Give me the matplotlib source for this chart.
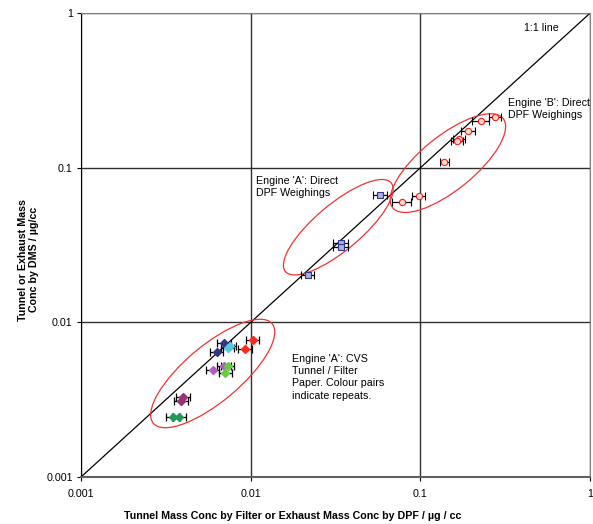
import numpy as np
import matplotlib
matplotlib.use("Agg")
import matplotlib.pyplot as plt
import matplotlib.transforms as mtransforms
from matplotlib.patches import Ellipse

plt.rcParams['font.family'] = ['Liberation Sans', 'DejaVu Sans']

# Engine 'A' CVS tunnel / filter paper (pairs of repeats)
cvs_series = {
    'red':      ([0.0103, 0.0093], [0.0077, 0.0067], '#ff2a1a'),
    'navy':     ([0.0070, 0.0063], [0.0074, 0.0064], '#333388'),
    'cyan':     ([0.0073, 0.0075], [0.0068, 0.0070], '#55c8e0'),
    'orchid':   ([0.0070, 0.0060], [0.0052, 0.0049], '#b060c0'),
    'ltgreen':  ([0.0073, 0.0071], [0.0052, 0.0047], '#66cc44'),
    'plum':     ([0.0040, 0.0039], [0.0033, 0.0031], '#993377'),
    'dkgreen':  ([0.0035, 0.0038], [0.00245, 0.00245], '#229955'),
}
cvs_xerr_pct = 0.09

# Engine 'A' direct DPF weighings
a_x = [0.0580, 0.0341, 0.0338, 0.0217]
a_y = [0.0670, 0.0325, 0.0309, 0.0203]
a_xerr_pct = [0.09, 0.10, 0.10, 0.09]

# Engine 'B' direct DPF weighings
b_x = [0.276, 0.2275, 0.191, 0.169, 0.164, 0.138, 0.0978, 0.078]
b_y = [0.213, 0.199, 0.173, 0.153, 0.149, 0.109, 0.066, 0.060]
b_xerr_pct = [0.08, 0.11, 0.09, 0.08, 0.08, 0.06, 0.09, 0.13]

tick_vals = [0.001, 0.01, 0.1, 1]
tick_labels = ['0.001', '0.01', '0.1', '1']

fig = plt.figure(figsize=(5.93, 5.24), dpi=100)
ax = fig.add_axes([0.1366, 0.0897, 0.8587, 0.8855])
ax.set_xscale('log')
ax.set_yscale('log')
ax.set_xlim(0.001, 1)
ax.set_ylim(0.001, 1)

ax.grid(True, which='major', color='#303030', lw=1, zorder=0)
ax.minorticks_off()
ax.set_xticks(tick_vals)
ax.set_xticklabels(tick_labels)
ax.set_yticks(tick_vals)
ax.set_yticklabels(tick_labels)
ax.tick_params(labelsize=7.7, direction='out', length=3, width=0.8, pad=3)
ax.tick_params(axis='x', pad=6)

for s in ['top', 'right']:
    ax.spines[s].set_color('#808080')
ax.spines['bottom'].set_color('#606060')
ax.spines['bottom'].set_linewidth(1.5)
ax.spines['left'].set_color('black')

# 1:1 line
ax.plot([0.001, 1], [0.001, 1], color='black', lw=0.9, zorder=2)

for name, (xs, ys, col) in cvs_series.items():
    xs = np.array(xs)
    ax.errorbar(xs, ys, xerr=xs * cvs_xerr_pct, fmt='D', ms=4.5, mfc=col, mec=col,
                ecolor='black', elinewidth=0.9, capsize=3, capthick=0.9, zorder=4)

a_x = np.array(a_x)
ax.errorbar(a_x, a_y, xerr=a_x * np.array(a_xerr_pct), fmt='s', ms=4, mfc='#aab0e0',
            mec='#333388', mew=0.8, ecolor='black', elinewidth=0.9, capsize=3,
            capthick=0.9, zorder=4)

b_x = np.array(b_x)
ax.errorbar(b_x, b_y, xerr=b_x * np.array(b_xerr_pct), fmt='o', ms=4.5, mfc='#ffd8d0',
            mec='#ee2222', mew=0.8, ecolor='black', elinewidth=0.9, capsize=3,
            capthick=0.9, zorder=4)

# ellipses round each group (sizes in inches, centred in data coords)
ellipses = [
    ((0.00597, 0.00467), 1.55, 0.56, 40.0),
    ((0.0328, 0.0412), 1.38, 0.46, 40.0),
    ((0.145, 0.107), 1.42, 0.54, 39.0),
]
for (cx, cy), w, h, ang in ellipses:
    tr = fig.dpi_scale_trans + mtransforms.ScaledTranslation(cx, cy, ax.transData)
    ax.add_patch(Ellipse((0, 0), w, h, angle=ang, fill=False, ec='#ee3333',
                         lw=0.9, transform=tr, zorder=3))

ax.text(0.515, 0.805, '1:1 line', fontsize=7.7, ha='center', va='center')
ax.text(0.327, 0.282, "Engine 'B': Direct\nDPF Weighings", fontsize=7.7,
        ha='left', va='top', linespacing=1.3)
ax.text(0.0108, 0.0887, "Engine 'A': Direct\nDPF Weighings", fontsize=7.7,
        ha='left', va='top', linespacing=1.3)
ax.text(0.0176, 0.00628, "Engine 'A': CVS\nTunnel / Filter\nPaper. Colour pairs\nindicate repeats.",
        fontsize=7.7, ha='left', va='top', linespacing=1.3)

ax.set_xlabel('Tunnel Mass Conc by Filter or Exhaust Mass Conc by DPF / µg / cc',
              fontsize=7.7, fontweight='bold')
ax.xaxis.set_label_coords(0.415, -0.074)
ax.set_ylabel('Tunnel or Exhaust Mass\nConc by DMS / µg/cc', fontsize=7.7,
              fontweight='bold')
ax.yaxis.set_label_coords(-0.082, 0.468)

fig.savefig('out.png', dpi=100)
